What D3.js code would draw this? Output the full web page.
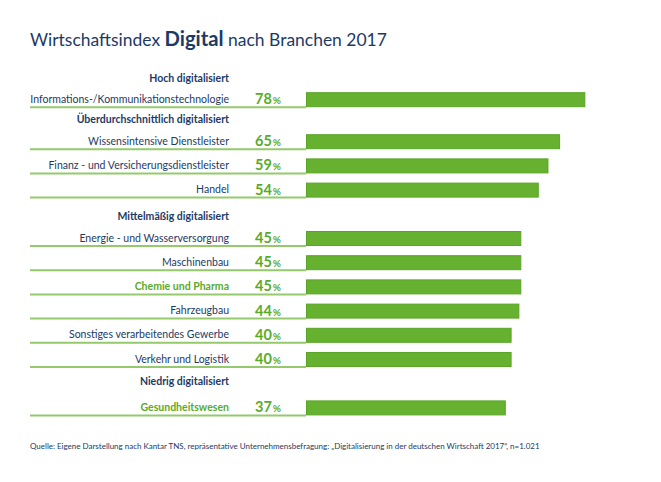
<!DOCTYPE html>
<html><head><meta charset="utf-8">
<script src="https://cdn.jsdelivr.net/npm/d3@7"></script>
<style>
html,body{margin:0;padding:0;background:#fff;}
svg{display:block;}
text{font-family:Lato,"Noto Sans",sans-serif;}
</style></head>
<body>
<svg id="chart" width="661" height="482"></svg>
<script>
// ---- data ----
const groups = ["Hoch digitalisiert", "Überdurchschnittlich digitalisiert", "Mittelmäßig digitalisiert", "Niedrig digitalisiert"];
const categories = [
  "Informations-/Kommunikationstechnologie",
  "Wissensintensive Dienstleister",
  "Finanz - und Versicherungsdienstleister",
  "Handel",
  "Energie - und Wasserversorgung",
  "Maschinenbau",
  "Chemie und Pharma",
  "Fahrzeugbau",
  "Sonstiges verarbeitendes Gewerbe",
  "Verkehr und Logistik",
  "Gesundheitswesen"
];
const values = [78, 65, 59, 54, 45, 45, 45, 44, 40, 40, 37];
const groupOf = [0, 1, 1, 1, 2, 2, 2, 2, 2, 2, 3];
const highlighted = ["Chemie und Pharma", "Gesundheitswesen"];
const titleParts = ["Wirtschaftsindex ", "Digital", " nach Branchen 2017"];
const sourceText = "Quelle: Eigene Darstellung nach Kantar TNS, repräsentative Unternehmensbefragung: „Digitalisierung in der deutschen Wirtschaft 2017“, n=1.021";

// ---- style ----
const navy = "#1d3a66", green = "#5aab2a", barFill = "#66b12f", barStroke = "#59a526", lineCol = "#94c96c";

const svg = d3.select("#chart");

function fit(sel, target) {
  const fs = parseFloat(sel.attr("font-size"));
  const w = sel.node().getComputedTextLength();
  sel.attr("font-size", (fs * target / w).toFixed(2));
}

// title
const title = svg.append("text").attr("x", 30).attr("y", 46).attr("font-size", 19).attr("fill", navy);
titleParts.forEach((p, i) => title.append("tspan").attr("font-weight", i === 1 ? 700 : 400).attr("font-size", i === 1 ? 22 : 19).text(p));
{
  const w = title.node().getComputedTextLength();
  const k = 357 / w;
  title.selectAll("tspan").each(function(d, i) {
    const t = d3.select(this); t.attr("font-size", (parseFloat(t.attr("font-size")) * k).toFixed(2));
  });
}

// vertical layout: slots (headers + rows)
const rowStep = 24.2;
const headerStep = [24.2, 17.8, 24.2, 24.2];
const headerLift = [10, 11, 11, 15];
const slots = [];
let y = 68;
categories.forEach((c, i) => {
  if (i === 0 || groupOf[i] !== groupOf[i - 1]) {
    const g = groupOf[i];
    y += headerStep[g];
    slots.push({type: "header", g: g, y: y - headerLift[g]});
  }
  slots.push({type: "row", i: i, y: y});
  y += rowStep;
});
const rows = slots.filter(s => s.type === "row");
const heads = slots.filter(s => s.type === "header");
const barH = 15;

// x scale for bars (bars start at the left edge of the bar area)
const barLeft = 306;
const x = d3.scaleLinear().domain([0, 100]).range([434, 628]);

// underlines
svg.append("g").selectAll("line").data(rows).join("line")
  .attr("x1", 30).attr("x2", barLeft)
  .attr("y1", d => d.y + barH).attr("y2", d => d.y + barH)
  .attr("stroke", lineCol).attr("stroke-width", 2);

// bars
svg.append("g").selectAll("rect").data(rows).join("rect")
  .attr("x", barLeft + 0.5).attr("y", d => d.y + 0.5)
  .attr("width", d => x(values[d.i]) - barLeft - 1)
  .attr("height", barH - 1)
  .attr("fill", barFill).attr("stroke", barStroke).attr("stroke-width", 1);

// labels
const labels = svg.append("g").selectAll("text").data(rows).join("text")
  .attr("x", 229).attr("y", d => d.y + 10.5)
  .attr("text-anchor", "end").attr("font-size", 11.5)
  .attr("fill", d => highlighted.includes(categories[d.i]) ? green : navy)
  .attr("font-weight", d => highlighted.includes(categories[d.i]) ? 700 : 400)
  .text(d => categories[d.i]);
const l0 = labels.filter((d, i) => i === 0);
fit(l0, 199);
const labelFs = l0.attr("font-size");
labels.attr("font-size", labelFs);

// headers
svg.append("g").selectAll("text").data(heads).join("text")
  .attr("x", 229).attr("y", d => d.y)
  .attr("text-anchor", "end").attr("font-size", labelFs).attr("font-weight", 700)
  .attr("fill", navy).text(d => groups[d.g]);

// values
const vt = svg.append("g").selectAll("text").data(rows).join("text")
  .attr("x", 255).attr("y", d => d.y + 12)
  .attr("fill", green).attr("font-weight", 700);
vt.append("tspan").attr("font-size", 14.5).text(d => values[d.i]);
vt.append("tspan").attr("font-size", 10).attr("dx", 1).text("%");

// source
const src = svg.append("text").attr("x", 30).attr("y", 449).attr("font-size", 9).attr("fill", navy).text(sourceText);
fit(src, 510);
</script>
</body></html>
